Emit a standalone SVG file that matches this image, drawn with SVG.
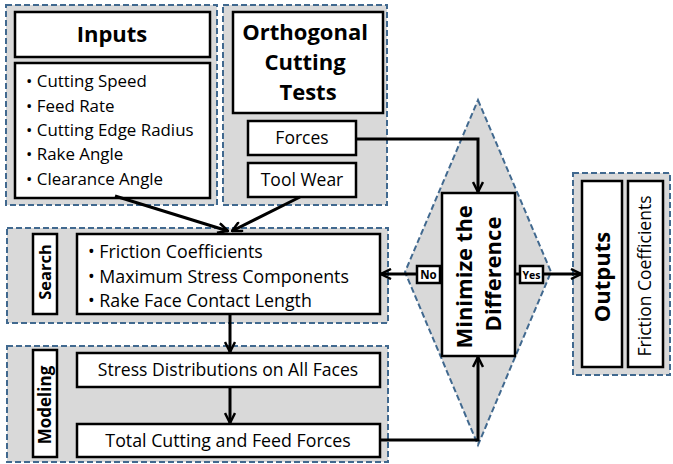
<svg xmlns="http://www.w3.org/2000/svg" width="673" height="464" viewBox="0 0 673 464">
<defs>
<marker id="ah" viewBox="0 0 12 12" refX="11" refY="6" markerWidth="12" markerHeight="12" markerUnits="userSpaceOnUse" orient="auto">
<path d="M1,1 L11,6 L1,11" fill="none" stroke="#000" stroke-width="2.5"/>
</marker>
</defs>
<style>
.grp{fill:#d9d9d9;stroke:#41698f;stroke-width:2;stroke-dasharray:6,3}
.box{fill:#fff;stroke:#000;stroke-width:2.5}
.t{font-family:"Open Sans","Liberation Sans",Arial,sans-serif;fill:#000}
.b{font-weight:bold}
.c{stroke:#000;stroke-width:3;fill:none}
</style>
<rect width="673" height="464" fill="#fff"/>
<g id="inputs">
<rect class="grp" x="6" y="5" width="211" height="200"/>
<rect class="box" x="15" y="12" width="195" height="45"/>
<text class="t b" x="112" y="42" font-size="22" text-anchor="middle">Inputs</text>
<rect class="box" x="15" y="63" width="195" height="135"/>
<text class="t" font-size="16.9">
<tspan x="26" y="87">• Cutting Speed</tspan>
<tspan x="26" y="112">• Feed Rate</tspan>
<tspan x="26" y="136">• Cutting Edge Radius</tspan>
<tspan x="26" y="160">• Rake Angle</tspan>
<tspan x="26" y="185">• Clearance Angle</tspan>
</text>
</g>
<g id="tests">
<rect class="grp" x="223" y="5" width="164" height="200"/>
<rect class="box" x="233" y="12" width="150" height="101"/>
<text class="t b" font-size="22" text-anchor="middle">
<tspan x="308" y="40">Orthogonal</tspan>
<tspan x="308" y="70">Cutting</tspan>
<tspan x="308" y="100">Tests</tspan>
</text>
</g>
<g id="forces">
<rect class="box" x="248" y="121" width="108" height="34"/>
<text class="t" x="302" y="144" font-size="17.5" text-anchor="middle">Forces</text>
</g>
<g id="toolwear">
<rect class="box" x="248" y="163" width="108" height="34"/>
<text class="t" x="302" y="186" font-size="17.5" text-anchor="middle">Tool Wear</text>
</g>
<g id="search">
<rect class="grp" x="7" y="228" width="381" height="95"/>
<rect class="box" x="33" y="234" width="24" height="80"/>
<text class="t b" font-size="16.5" text-anchor="middle" transform="translate(51,272) rotate(-90)">Search</text>
<rect class="box" x="77" y="234" width="303" height="80"/>
<text class="t" font-size="17.8">
<tspan x="88" y="258">• Friction Coefficients</tspan>
<tspan x="88" y="283">• Maximum Stress Components</tspan>
<tspan x="88" y="307">• Rake Face Contact Length</tspan>
</text>
</g>
<g id="modeling">
<rect class="grp" x="7" y="346" width="381" height="116"/>
<rect class="box" x="33" y="350" width="24" height="107"/>
<text class="t b" font-size="17" text-anchor="middle" transform="translate(51,405) rotate(-90)">Modeling</text>
</g>
<g id="stress">
<rect class="box" x="77" y="353" width="303" height="34"/>
<text class="t" x="228" y="376" font-size="17.6" text-anchor="middle">Stress Distributions on All Faces</text>
</g>
<g id="total">
<rect class="box" x="77" y="424" width="303" height="33"/>
<text class="t" x="228" y="447" font-size="17.8" text-anchor="middle">Total Cutting and Feed Forces</text>
</g>
<g id="minimize">
<polygon class="grp" points="478,100 551,272 478,445 405,272"/>
<rect class="box" x="442" y="193" width="73" height="163"/>
<text class="t b" font-size="22" text-anchor="middle" transform="translate(478,274) rotate(-90)">
<tspan x="0" y="-6">Minimize the</tspan>
<tspan x="0" y="23">Difference</tspan>
</text>
</g>
<g id="outputs">
<rect class="grp" x="573" y="173" width="97" height="202"/>
<rect class="box" x="582" y="181" width="40" height="186"/>
<text class="t b" font-size="22" text-anchor="middle" transform="translate(610,277) rotate(-90)">Outputs</text>
<rect class="box" x="628" y="181" width="35" height="186"/>
<text class="t" font-size="17.5" text-anchor="middle" transform="translate(651,276) rotate(-90)">Friction Coefficients</text>
</g>
<g id="connectors">
<path class="c" d="M115,196 L228,231" marker-end="url(#ah)"/>
<path class="c" d="M300,197 L232,231" marker-end="url(#ah)"/>
<path class="c" d="M356,139 H478 V192" marker-end="url(#ah)"/>
<path class="c" d="M230,314 V352" marker-end="url(#ah)"/>
<path class="c" d="M230,387 V423" marker-end="url(#ah)"/>
<path class="c" d="M380,440 H478 V357" marker-end="url(#ah)"/>
<path class="c" d="M442,274 H381" marker-end="url(#ah)"/>
<path class="c" d="M515,274 H581" marker-end="url(#ah)"/>
<rect class="box" x="417" y="266" width="23" height="17" stroke-width="2"/>
<text class="t b" x="428.5" y="279" font-size="11.5" text-anchor="middle">No</text>
<rect class="box" x="520" y="266" width="23" height="17" stroke-width="2"/>
<text class="t b" x="531.5" y="279" font-size="10.5" text-anchor="middle">Yes</text>
</g>
</svg>
